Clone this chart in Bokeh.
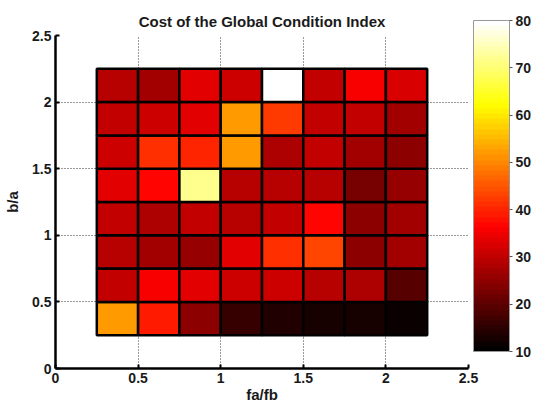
import numpy as np
from bokeh.plotting import figure
from bokeh.models import (ColumnDataSource, LinearColorMapper, ColorBar,
                          FixedTicker, CustomJSTickFormatter)
from bokeh.embed import file_html
from bokeh.resources import INLINE

# ---- data -------------------------------------------------------------
fa_fb = [0.375, 0.625, 0.875, 1.125, 1.375, 1.625, 1.875, 2.125]
b_a = [0.375, 0.625, 0.875, 1.125, 1.375, 1.625, 1.875, 2.125]

cost_b0375 = [52.0, 39.5, 25.2, 16.0, 13.5, 12.5, 13.0, 11.5]
cost_b0625 = [30.5, 36.0, 33.5, 31.0, 31.8, 29.3, 27.5, 19.8]
cost_b0875 = [28.8, 26.7, 26.0, 33.5, 41.5, 43.5, 24.5, 26.7]
cost_b1125 = [30.5, 27.5, 30.0, 29.3, 30.5, 36.3, 24.5, 26.7]
cost_b1375 = [33.5, 36.5, 71.8, 28.8, 29.0, 29.0, 23.0, 25.8]
cost_b1625 = [31.0, 41.0, 40.0, 52.5, 27.5, 30.0, 26.7, 24.5]
cost_b1875 = [30.0, 31.8, 34.0, 52.0, 42.0, 30.0, 30.5, 27.3]
cost_b2125 = [28.8, 27.3, 34.0, 31.3, 80.0, 30.0, 36.0, 32.0]

cost_rows = [cost_b0375, cost_b0625, cost_b0875, cost_b1125,
             cost_b1375, cost_b1625, cost_b1875, cost_b2125]

axis_ticks = [0, 0.5, 1, 1.5, 2, 2.5]
cbar_ticks = [10, 20, 30, 40, 50, 60, 70, 80]
cbar_low, cbar_high = 10, 80
cell_size = 0.25

# ---- MATLAB "hot" colormap --------------------------------------------
def hot(n=64):
    cols = []
    for i in range(n):
        t = i / (n - 1)
        r = min(1.0, t / 0.375)
        g = min(1.0, max(0.0, (t - 0.375) / 0.375))
        b = min(1.0, max(0.0, (t - 0.75) / 0.25))
        cols.append("#%02x%02x%02x" % (int(round(r * 255)), int(round(g * 255)), int(round(b * 255))))
    return cols

palette = hot(64)
mapper = LinearColorMapper(palette=palette, low=cbar_low, high=cbar_high)

xs, ys, vs = [], [], []
for yv, row in zip(b_a, cost_rows):
    for xv, v in zip(fa_fb, row):
        xs.append(xv)
        ys.append(yv)
        vs.append(v)
src = ColumnDataSource(dict(x=xs, y=ys, v=vs))

FONT = "Liberation Sans"
TXT = "#1a1a1a"

p = figure(width=536, height=406,
           x_range=(0, 2.5), y_range=(0, 2.5),
           min_border_left=55, min_border_right=68,
           min_border_top=35, min_border_bottom=38,
           output_backend="svg", toolbar_location=None,
           title="Cost of the Global Condition Index")
p.title.align = "center"
p.title.text_font = FONT
p.title.text_font_size = "15px"
p.title.text_font_style = "bold"
p.title.text_color = TXT
p.title.standoff = 12
p.outline_line_color = None
p.background_fill_color = "white"

p.rect(x="x", y="y", width=cell_size, height=cell_size, source=src,
       fill_color={"field": "v", "transform": mapper},
       line_color="black", line_width=2.5)

fmt = CustomJSTickFormatter(code="return tick.toString();")
for ax in (p.xaxis[0], p.yaxis[0]):
    ax.ticker = FixedTicker(ticks=axis_ticks)
    ax.formatter = fmt
    ax.axis_line_width = 2.5
    ax.axis_line_color = "black"
    ax.major_tick_in = 4
    ax.major_tick_out = 0
    ax.major_tick_line_width = 2
    ax.minor_tick_line_color = None
    ax.major_label_text_font = FONT
    ax.major_label_text_font_size = "14px"
    ax.major_label_text_font_style = "bold"
    ax.major_label_text_color = TXT
    ax.axis_label_text_font = FONT
    ax.axis_label_text_font_size = "15px"
    ax.axis_label_text_font_style = "bold"
    ax.axis_label_text_color = TXT
p.xaxis.axis_label = "fa/fb"
p.yaxis.axis_label = "b/a"
p.xaxis.major_label_standoff = 4
p.xaxis.axis_label_standoff = 0
p.yaxis.major_label_standoff = 4
p.yaxis.axis_label_standoff = 8

for g in (p.xgrid[0], p.ygrid[0]):
    g.ticker = FixedTicker(ticks=axis_ticks)
    g.grid_line_color = "#111111"
    g.grid_line_dash = "1 2"
    g.grid_line_width = 1
    g.grid_line_alpha = 0.85

cb = ColorBar(color_mapper=mapper, location=(418, 17),
              width=36, height=331, padding=0, margin=0,
              ticker=FixedTicker(ticks=cbar_ticks),
              major_label_text_font=FONT,
              major_label_text_font_size="14px",
              major_label_text_font_style="bold",
              major_label_text_color=TXT,
              major_tick_in=0, major_tick_out=3,
              major_tick_line_color="#555555",
              label_standoff=3,
              bar_line_color="#999999", bar_line_width=1,
              background_fill_alpha=0, border_line_color=None)
p.add_layout(cb, "center")

open("out.html", "w").write(file_html(p, INLINE))
